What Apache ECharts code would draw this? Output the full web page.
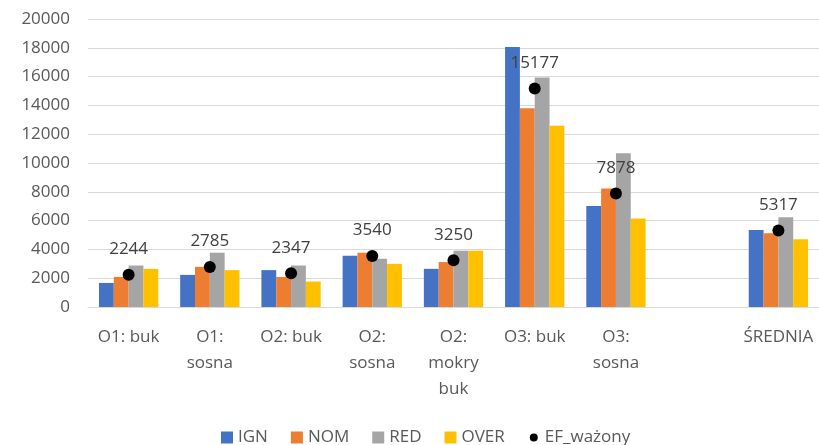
<!DOCTYPE html>
<html>
<head>
<meta charset="utf-8">
<script src="https://cdn.jsdelivr.net/npm/echarts@6/dist/echarts.min.js"></script>
<style>
  html, body { margin: 0; padding: 0; background: #fff; }
  #chart { width: 819px; height: 445px; }
</style>
</head>
<body>
<div id="chart"></div>
<script>
// kategorie (pusta kategoria robi odstęp przed ŚREDNIA)
const categories = ['O1: buk', 'O1:\nsosna', 'O2: buk', 'O2:\nsosna', 'O2:\nmokry\nbuk', 'O3: buk', 'O3:\nsosna', '', 'ŚREDNIA']

const ign = [1670, 2230, 2560, 3560, 2650, 18050, 7020, '-', 5350]
const nom = [2090, 2790, 2090, 3770, 3120, 13810, 8230, '-', 5120]
const red = [2880, 3770, 2880, 3350, 3910, 15930, 10670, '-', 6230]
const over = [2650, 2560, 1770, 3000, 3910, 12580, 6140, '-', 4700]
const efWazony = [2244, 2785, 2347, 3540, 3250, 15177, 7878, '-', 5317]

const FONT = 'Open Sans'
const TXT = '#595959'
// mniejsza kropka w legendzie (ramka 12x12, kółko 8)
const DOT_ICON = 'path://M0,0M12,12M2,6A4,4,0,1,1,10,6A4,4,0,1,1,2,6Z'

function barSeries(name, data, color) {
  return {
    name: name,
    type: 'bar',
    data: data,
    barGap: '0%',
    barCategoryGap: '27%',
    itemStyle: { color: color },
    animation: false
  }
}

let chart = echarts.init(document.getElementById('chart'))

let options = {
  backgroundColor: '#fff',
  textStyle: { fontFamily: FONT },
  grid: { left: 88, right: 0, top: 19, bottom: 138 },
  legend: {
    top: 424,
    left: 216,
    itemWidth: 12,
    itemHeight: 12,
    itemGap: 23,
    textStyle: { fontFamily: FONT, fontSize: 17, color: TXT },
    data: [
      { name: 'IGN', icon: 'rect' },
      { name: 'NOM', icon: 'rect' },
      { name: 'RED', icon: 'rect' },
      { name: 'OVER', icon: 'rect' },
      { name: 'EF_ważony', icon: DOT_ICON }
    ]
  },
  xAxis: {
    type: 'category',
    data: categories,
    axisLine: { lineStyle: { color: '#d9d9d9' } },
    axisTick: { show: false },
    axisLabel: {
      interval: 0,
      margin: 17,
      fontFamily: FONT,
      fontSize: 17,
      lineHeight: 26,
      color: TXT
    }
  },
  yAxis: {
    type: 'value',
    min: 0,
    max: 20000,
    interval: 2000,
    axisLine: { show: false },
    axisTick: { show: false },
    splitLine: { lineStyle: { color: '#d9d9d9' } },
    axisLabel: {
      margin: 18,
      fontFamily: FONT,
      fontSize: 17,
      color: TXT,
      formatter: function (v) { return String(v) }
    }
  },
  series: [
    barSeries('IGN', ign, '#4472C4'),
    barSeries('NOM', nom, '#ED7D31'),
    barSeries('RED', red, '#A5A5A5'),
    barSeries('OVER', over, '#FFC000'),
    {
      name: 'EF_ważony',
      type: 'scatter',
      data: efWazony,
      symbolSize: 12,
      itemStyle: { color: '#000', opacity: 1 },
      z: 5,
      label: {
        show: true,
        position: 'top',
        distance: 11,
        fontFamily: FONT,
        fontSize: 17,
        color: '#404040'
      },
      animation: false
    }
  ]
}

chart.setOption(options)
window.addEventListener('resize', function () {
  chart.resize()
})
</script>
</body>
</html>
